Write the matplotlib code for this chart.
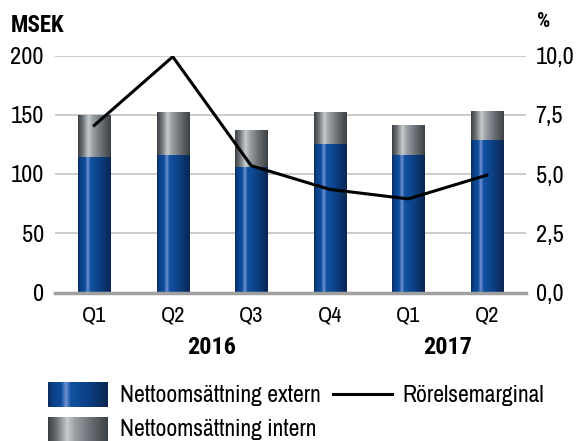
import numpy as np
import matplotlib
matplotlib.use("Agg")
import matplotlib.pyplot as plt
from matplotlib.colors import LinearSegmentedColormap

# -------------------------------
# DATA
# -------------------------------
quarters = ["Q1", "Q2", "Q3", "Q4", "Q1", "Q2"]
years = ["2016", "2017"]
extern = [114, 116, 106, 125, 116, 129]
intern = [35, 36, 31, 27, 25, 24]
margin = [7.05, 9.95, 5.35, 4.35, 3.95, 4.95]

left_ticks = [0, 50, 100, 150, 200]
right_ticks = [0, 2.5, 5.0, 7.5, 10.0]

plt.rcParams["font.family"] = ["Archivo Narrow", "DejaVu Sans"]
BOLD = ["Roboto Condensed", "Archivo Narrow", "DejaVu Sans"]

W, H = 578, 441
fig = plt.figure(figsize=(W / 100, H / 100), dpi=100)

# -------------------------------
# GRADIENTS
# -------------------------------
blue_cmap = LinearSegmentedColormap.from_list("blue", [
    (0.0, "#0b2c5e"), (0.08, "#0a4188"), (0.22, "#0f4e9e"),
    (0.30, "#6f92d2"), (0.38, "#1252a2"), (0.65, "#0b4186"),
    (1.0, "#0a2652")])
gray_cmap = LinearSegmentedColormap.from_list("gray", [
    (0.0, "#3a3e42"), (0.15, "#6e7479"), (0.32, "#c6cbce"),
    (0.45, "#9aa0a4"), (0.7, "#6b7176"), (1.0, "#3b4044")])
grad = np.linspace(0, 1, 256).reshape(1, -1)


def gradient_bars(ax, bars, cmap):
    for b in bars:
        x0, y0 = b.get_x(), b.get_y()
        ax.imshow(grad, cmap=cmap, aspect="auto", zorder=2,
                  extent=(x0, x0 + b.get_width(), y0, y0 + b.get_height()))


# -------------------------------
# MAIN AXES
# -------------------------------
ax = fig.add_axes([55 / W, (H - 292.5) / H, 471 / W, 237 / H])
x = np.arange(len(quarters))
b1 = ax.bar(x, extern, width=0.41, color="none", linewidth=0)
b2 = ax.bar(x, intern, bottom=extern, width=0.41, color="none", linewidth=0)
gradient_bars(ax, b1, blue_cmap)
gradient_bars(ax, b2, gray_cmap)

ax.set_xlim(-0.5, len(quarters) - 0.5)
ax.set_ylim(0, 200)
ax.set_yticks(left_ticks)
ax.set_yticklabels([str(t) for t in left_ticks])
ax.set_xticks(x)
ax.set_xticklabels(quarters)
ax.set_axisbelow(True)
ax.yaxis.grid(True, color="#c8c8c8", linewidth=1.3)
for s in ["left", "right", "top"]:
    ax.spines[s].set_visible(False)
ax.spines["bottom"].set_color("#a0a0a0")
ax.spines["bottom"].set_linewidth(2.5)
ax.tick_params(axis="y", length=0, labelsize=17.5, pad=8)
ax.tick_params(axis="x", length=0, labelsize=16, pad=9)

# -------------------------------
# MARGIN LINE
# -------------------------------
ax2 = ax.twinx()
ax2.plot(x, margin, color="black", linewidth=2.2)
ax2.set_ylim(0, 10)
ax2.set_yticks(right_ticks)
ax2.set_yticklabels([f"{t:.1f}".replace(".", ",") for t in right_ticks])
ax2.tick_params(axis="y", length=0, labelsize=17.5, pad=7)
for s in ["left", "right", "top", "bottom"]:
    ax2.spines[s].set_visible(False)

# -------------------------------
# TEXTS
# -------------------------------
fig.text(11 / W, 1 - 25 / H, "MSEK", family=BOLD, fontsize=16.5,
         fontweight="bold", va="center")
fig.text(537 / W, 1 - 21.5 / H, "%", family=BOLD, fontsize=15,
         fontweight="bold", va="center")
ax.text(1.5, -0.23, years[0], transform=ax.get_xaxis_transform(), family=BOLD,
        ha="center", va="center", fontsize=17.5, fontweight="bold")
ax.text(4.5, -0.23, years[1], transform=ax.get_xaxis_transform(), family=BOLD,
        ha="center", va="center", fontsize=17.5, fontweight="bold")

# -------------------------------
# LEGEND
# -------------------------------
for y_top, cmap in [(382, blue_cmap), (417, gray_cmap)]:
    sw = fig.add_axes([48 / W, 1 - (y_top + 24.5) / H, 60 / W, 24.5 / H])
    sw.imshow(grad, cmap=cmap, aspect="auto")
    sw.axis("off")
fig.text(120 / W, 1 - 395 / H, "Nettoomsättning extern", fontsize=17, va="center")
fig.text(120 / W, 1 - 430 / H, "Nettoomsättning intern", fontsize=17, va="center")
fig.add_artist(plt.Line2D([333 / W, 391.5 / W], [1 - 393.7 / H, 1 - 393.7 / H],
                          color="black", linewidth=2.2))
fig.text(402 / W, 1 - 395 / H, "Rörelsemarginal", fontsize=17, va="center")

fig.savefig("out.png", dpi=100)
